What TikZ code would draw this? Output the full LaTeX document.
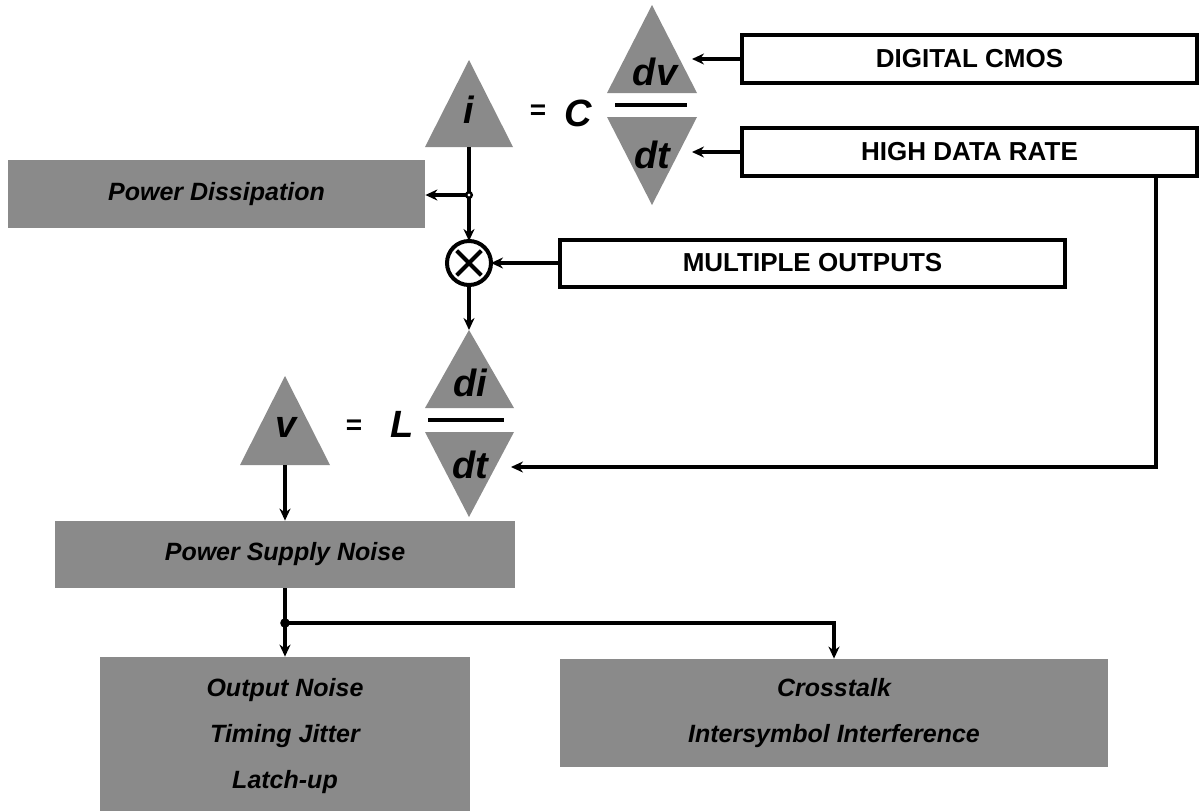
\documentclass[tikz,border=0pt]{standalone}
\usepackage{fontspec}
\setmainfont{Liberation Sans}
\usetikzlibrary{arrows.meta}

\tikzstyle{shaded-box}=[fill={halftone}, inner sep=0pt, align=center,
  font=\bfseries\itshape\fontsize{12.5}{23}\selectfont]
\tikzstyle{plain-box}=[draw, line width=2pt, inner sep=0pt,
  font=\bfseries\fontsize{13}{15}\selectfont]
\tikzstyle{eqn}=[inner sep=0pt, font=\bfseries\itshape\fontsize{19}{19}\selectfont]
\tikzstyle{eqn-sign}=[inner sep=0pt, font=\bfseries\fontsize{14}{14}\selectfont]
\tikzstyle{wire}=[line width=2pt]
\tikzstyle{flow}=[wire, -{Stealth[length=6pt, width=5.5pt]}]
\definecolor{halftone}{HTML}{8a8a8a}

\begin{document}
\begin{tikzpicture}[x=0.5pt, y=-0.5pt]
  \useasboundingbox (0,0) rectangle (1200,810);

  % shaded triangles of the two equations
  \fill[halftone] (425,147) -- (469,60) -- (513,147) -- cycle;
  \fill[halftone] (607,93) -- (652,5) -- (697,93) -- cycle;
  \fill[halftone] (607,117) -- (652,205) -- (697,117) -- cycle;
  \draw[line width=2.2pt] (615,105) -- (687,105);
  \fill[halftone] (240,465) -- (285,376) -- (330,465) -- cycle;
  \fill[halftone] (425,408) -- (469,330) -- (514,408) -- cycle;
  \fill[halftone] (425,432) -- (469,517) -- (514,432) -- cycle;
  \draw[line width=2.2pt] (428,420) -- (504,420);

  \node (isym) at (469,110) [eqn] {i};
  \node (eq1) at (538,112) [eqn-sign] {=};
  \node (csym) at (578,113) [eqn] {C};
  \node (dvsym) at (655,72) [eqn] {dv};
  \node (dtsym1) at (652,155) [eqn] {dt};
  \node (vsym) at (286,427) [eqn] {v};
  \node (eq2) at (354,427) [eqn-sign] {=};
  \node (lsym) at (402,424) [eqn] {L};
  \node (disym) at (470,383) [eqn] {di};
  \node (dtsym2) at (470,465) [eqn] {dt};

  % boxes
  \node (cmos) at (969.5,59) [plain-box, minimum width=227.5pt, minimum height=24pt] {DIGITAL CMOS};
  \node (rate) at (969.5,152) [plain-box, minimum width=227.5pt, minimum height=24pt] {HIGH DATA RATE};
  \node (multi) at (812.5,263) [plain-box, minimum width=252.5pt, minimum height=23.5pt] {MULTIPLE OUTPUTS};
  \node (dissip) at (216.5,194) [shaded-box, minimum width=208.5pt, minimum height=34pt] {Power Dissipation};
  \node (psn) at (285,554.5) [shaded-box, minimum width=230pt, minimum height=33.5pt] {Power Supply Noise};
  \node (outn) at (285,736) [shaded-box, minimum width=185pt, minimum height=79pt] {Output Noise\\Timing Jitter\\Latch-up};
  \node (xtalk) at (834,713) [shaded-box, minimum width=274pt, minimum height=54pt] {Crosstalk\\Intersymbol Interference};

  \node (mix) at (469,263) [circle, draw, line width=2pt, outer sep=0pt, minimum size=22pt] {};
  \draw[wire, shorten <=2.3pt, shorten >=2.3pt] (mix.north west) -- (mix.south east);
  \draw[wire, shorten <=2.3pt, shorten >=2.3pt] (mix.north east) -- (mix.south west);

  % connectors
  \coordinate (ibase) at (469,147);
  \coordinate (tap) at (469,195);
  \coordinate (dvin) at (692,59);
  \coordinate (dtin) at (692,152);
  \coordinate (diapex) at (469,330);
  \coordinate (ratecorner) at (1156,467);
  \coordinate (dt2in) at (511,467);
  \coordinate (vbase) at (285,465);
  \coordinate (split) at (285,623);

  \draw[flow] (cmos) -- (dvin);
  \draw[flow] (rate) -- (dtin);
  \draw[wire] (ibase) -- (tap);
  \draw[flow] (tap) -- (dissip.east |- tap);
  \draw[flow] (tap) -- (mix.north);
  \draw[flow] (multi) -- (mix.east);
  \draw[flow] (mix.south) -- (diapex);
  \draw[flow] (ratecorner |- rate.south) -- (ratecorner) -- (dt2in);
  \draw[flow] (vbase) -- (psn.north);
  \draw[wire] (psn.south) -- (split);
  \draw[flow] (split) -- (outn.north);
  \draw[flow] (split) -| (xtalk.north);
  \draw[line width=1.2pt, fill=white] (tap) circle[radius=1.4pt];
  \fill (split) circle[radius=2.4pt];
\end{tikzpicture}
\end{document}
